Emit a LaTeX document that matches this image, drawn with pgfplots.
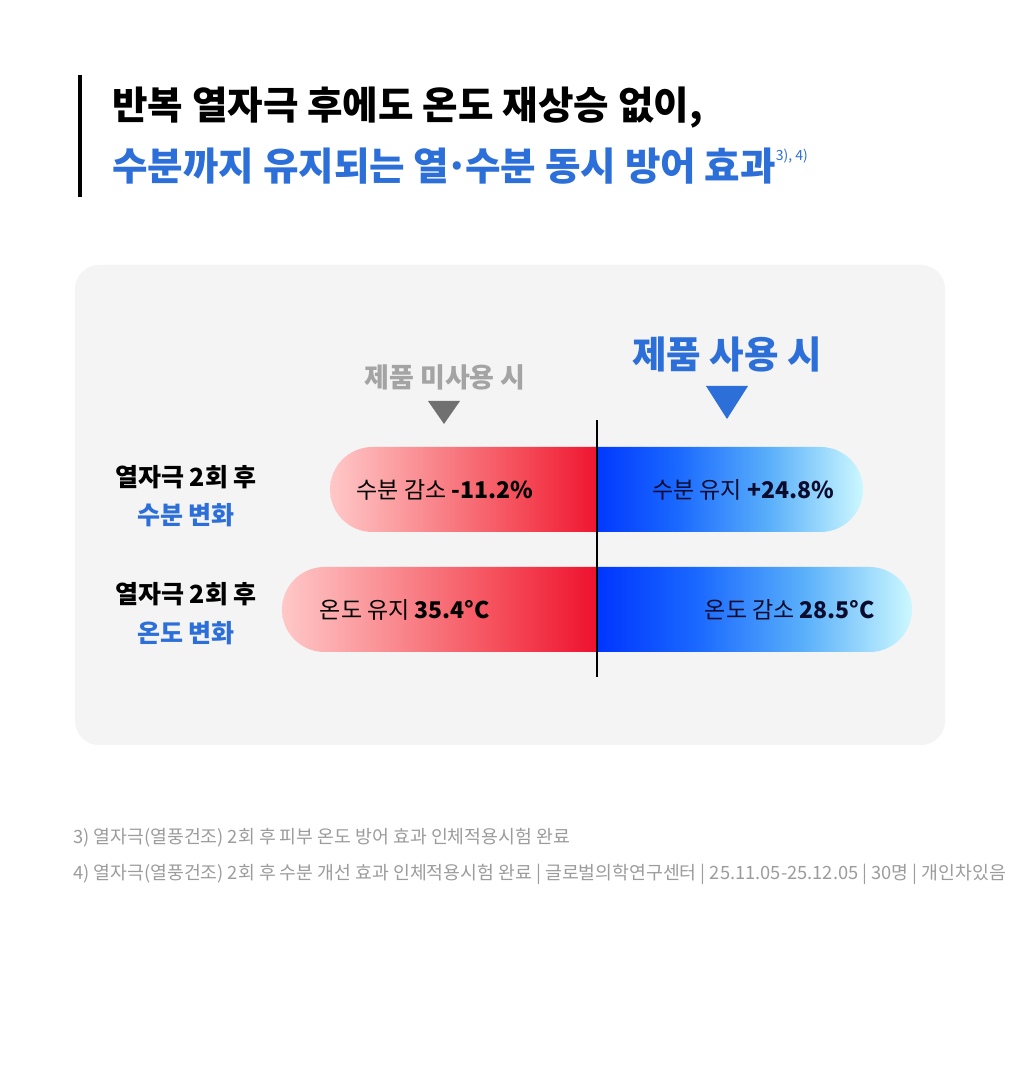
\documentclass[border=0pt]{standalone}
\usepackage{pgfplots}
\pgfplotsset{compat=1.18}
\usepackage{fontspec}
\setmainfont{Noto Sans CJK KR}
\definecolor{panel}{HTML}{F4F4F4}
\definecolor{tblue}{HTML}{2C6FD9}
\definecolor{hgray}{HTML}{A4A4A4}
\definecolor{tgray}{HTML}{707070}
\definecolor{fgray}{HTML}{9C9C9C}
\definecolor{numnavy}{HTML}{0B0B2E}
\pgfdeclarehorizontalshading{blueshade}{100bp}{%
  color(0bp)=(rgb,255:red,0;green,54;blue,255);
  color(31.5bp)=(rgb,255:red,0;green,54;blue,255);
  color(45bp)=(rgb,255:red,26;green,104;blue,255);
  color(60bp)=(rgb,255:red,90;green,176;blue,250);
  color(75bp)=(rgb,255:red,204;green,248;blue,255);
  color(100bp)=(rgb,255:red,204;green,248;blue,255)}
\pgfdeclarehorizontalshading{redshade}{100bp}{%
  color(0bp)=(rgb,255:red,255;green,200;blue,200);
  color(25bp)=(rgb,255:red,255;green,200;blue,200);
  color(40bp)=(rgb,255:red,249;green,140;blue,145);
  color(55bp)=(rgb,255:red,245;green,78;blue,90);
  color(68.5bp)=(rgb,255:red,238;green,18;blue,46);
  color(100bp)=(rgb,255:red,238;green,18;blue,46)}
\begin{document}
\begin{tikzpicture}[x=1pt,y=1pt]
\fill[white] (0,0) rectangle (1024,1092);
\fill[panel, rounded corners=24pt] (75,347) rectangle (945,827);
% title
\fill[black] (78,895) rectangle (82,1017);
\node[anchor=base west, inner sep=0pt, font=\fontsize{38.6}{40}\selectfont\bfseries] at (112,972) {반복 열자극 후에도 온도 재상승 없이,};
\node[anchor=base west, inner sep=0pt, text=tblue, font=\fontsize{38.6}{40}\selectfont\bfseries] at (112,911) {수분까지 유지되는 열\kern-0.1em·\kern-0.1em수분 동시 방어 효과\raisebox{20pt}{\fontsize{14}{14}\selectfont\mdseries 3), 4)}};
% left axis (without product)
\begin{axis}[at={(267,400)}, anchor=south west, x=1pt, y=1pt,
  xmin=-330, xmax=0, ymin=400, ymax=700, hide axis, clip=true]
\addplot[draw=none, shading=redshade, rounded corners=42.5pt]
  coordinates {(-267,560) (45,560) (45,645) (-267,645)} -- cycle;
\addplot[draw=none, shading=redshade, rounded corners=42.5pt]
  coordinates {(-315,440) (45,440) (45,525) (-315,525)} -- cycle;
\end{axis}
% right axis (with product)
\begin{axis}[at={(597,400)}, anchor=south west, x=1pt, y=1pt,
  xmin=0, xmax=330, ymin=400, ymax=700, hide axis, clip=true]
\addplot[draw=none, shading=blueshade, rounded corners=42.5pt]
  coordinates {(-45,560) (266,560) (266,645) (-45,645)} -- cycle;
\addplot[draw=none, shading=blueshade, rounded corners=42.5pt]
  coordinates {(-45,440) (315,440) (315,525) (-45,525)} -- cycle;
\end{axis}
% center line
\draw[line width=2.5pt] (597,672) -- (597,415);
% column headers
\node[inner sep=0pt, text=hgray, font=\fontsize{27}{30}\selectfont\bfseries] at (445,715) {제품 미사용 시};
\fill[tgray] (428,691) -- (460,691) -- (444,668) -- cycle;
\node[inner sep=0pt, text=tblue, font=\fontsize{37.5}{42}\selectfont\bfseries] at (727,738) {제품 사용 시};
\fill[tblue] (706,706) -- (748,706) -- (727,673) -- cycle;
% row labels
\node[inner sep=0pt, font=\fontsize{25}{28}\selectfont\bfseries] at (186,615) {열자극 2회 후};
\node[inner sep=0pt, text=tblue, font=\fontsize{25}{28}\selectfont\bfseries] at (186,577) {수분 변화};
\node[inner sep=0pt, font=\fontsize{25}{28}\selectfont\bfseries] at (186,498) {열자극 2회 후};
\node[inner sep=0pt, text=tblue, font=\fontsize{25}{28}\selectfont\bfseries] at (186,459) {온도 변화};
% bar texts
\node[inner sep=0pt, font=\fontsize{23}{26}\selectfont] at (445,602.5) {수분 감소 {\bfseries -11.2\%}};
\node[inner sep=0pt, font=\fontsize{23}{26}\selectfont, text=numnavy] at (743,602.5) {수분 유지 {\bfseries +24.8\%}};
\node[inner sep=0pt, font=\fontsize{23}{26}\selectfont] at (405,482.5) {온도 유지 {\bfseries 35.4°C}};
\node[inner sep=0pt, font=\fontsize{23}{26}\selectfont, text=numnavy] at (790,482.5) {온도 감소 {\bfseries 28.5°C}};
% footnotes
\node[anchor=base west, inner sep=0pt, text=fgray, font=\fontsize{18.3}{20}\selectfont] at (73,248) {3) 열자극(열풍건조) 2회 후 피부 온도 방어 효과 인체적용시험 완료};
\node[anchor=base west, inner sep=0pt, text=fgray, font=\fontsize{18.3}{20}\selectfont] at (73,212) {4) 열자극(열풍건조) 2회 후 수분 개선 효과 인체적용시험 완료 | 글로벌의학연구센터 | 25.11.05-25.12.05 | 30명 | 개인차있음};
\end{tikzpicture}
\end{document}
